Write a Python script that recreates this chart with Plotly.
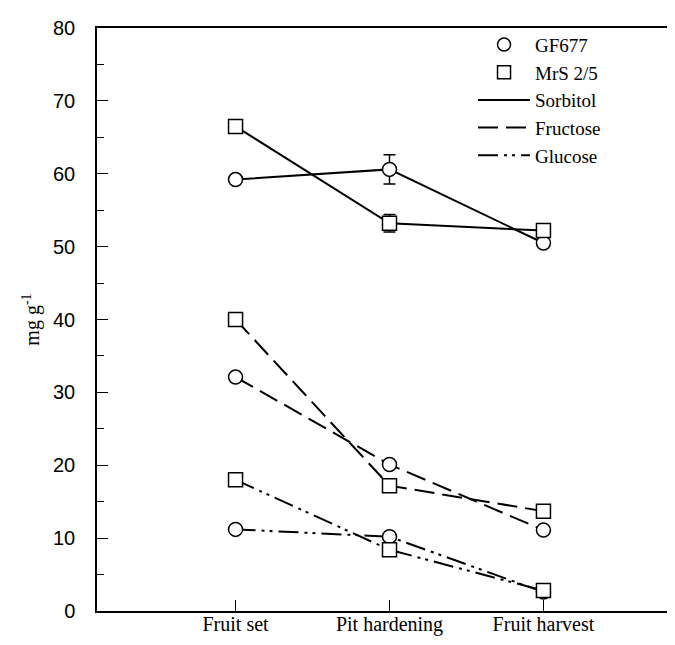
import plotly.graph_objects as go

stages = ["Fruit set", "Pit hardening", "Fruit harvest"]

gf_sorbitol = [59.2, 60.6, 50.5]
gf_fructose = [32.1, 20.1, 11.1]
gf_glucose = [11.2, 10.2, 2.6]
mrs_sorbitol = [66.5, 53.2, 52.2]
mrs_fructose = [40.0, 17.2, 13.7]
mrs_glucose = [18.0, 8.4, 2.8]

gf_sorbitol_err = [None, 2.0, None]
mrs_sorbitol_err = [None, 1.2, None]

y_ticks = [0, 10, 20, 30, 40, 50, 60, 70, 80]

SOLID = "solid"
FRUCT = "20px,8px"
GLUC = "20px,6px,3px,5px,3px,6px"

fig = go.Figure()

def add(y, symbol, dash, err=None):
    kw = {}
    if err is not None:
        kw["error_y"] = dict(type="data", array=err, visible=True, color="black",
                             thickness=1.5, width=6)
    fig.add_trace(go.Scatter(
        x=stages, y=y, mode="lines+markers",
        line=dict(color="black", width=2, dash=dash),
        marker=dict(symbol=symbol, size=14, color="white",
                    line=dict(color="black", width=1.5)),
        showlegend=False, **kw))

add(gf_sorbitol, "circle", SOLID, gf_sorbitol_err)
add(mrs_sorbitol, "square", SOLID, mrs_sorbitol_err)
add(gf_fructose, "circle", FRUCT)
add(mrs_fructose, "square", FRUCT)
add(gf_glucose, "circle", GLUC)
add(mrs_glucose, "square", GLUC)

legend_items = [
    ("GF677", "markers", "circle", SOLID),
    ("MrS 2/5", "markers", "square", SOLID),
    ("Sorbitol", "lines", None, SOLID),
    ("Fructose", "lines", None, FRUCT),
    ("Glucose", "lines", None, GLUC),
]
for name, mode, sym, dash in legend_items:
    if mode == "markers":
        fig.add_trace(go.Scatter(x=[None], y=[None], mode="markers", name=name,
                                 marker=dict(symbol=sym, size=13, color="white",
                                             line=dict(color="black", width=1.5))))
    else:
        fig.add_trace(go.Scatter(x=[None], y=[None], mode="lines", name=name,
                                 line=dict(color="black", width=2, dash=dash)))

fig.update_layout(
    width=675, height=645,
    margin=dict(l=89, r=1, t=20, b=42),
    paper_bgcolor="white", plot_bgcolor="white",
    legend=dict(x=0.645, y=1.004, xanchor="left", yanchor="top",
                bgcolor="rgba(0,0,0,0)", itemwidth=52,
                font=dict(family="Liberation Serif", size=19, color="black")),
    xaxis=dict(type="category", range=[-0.9, 2.887],
               showline=True, linecolor="black", linewidth=2, mirror=True,
               ticks="inside", ticklen=11, tickwidth=1, tickcolor="black",
               showgrid=False, zeroline=False,
               tickfont=dict(family="Liberation Serif", size=20, color="black"),
               ticklabelstandoff=-6),
    yaxis=dict(range=[0, 80], tickvals=y_ticks,
               showline=True, linecolor="black", linewidth=1.5, mirror="ticks",
               ticks="inside", ticklen=11, tickwidth=1, tickcolor="black",
               minor=dict(dtick=5, ticks="inside", ticklen=7, tickwidth=1, tickcolor="black"),
               showgrid=False, zeroline=False,
               tickfont=dict(family="Liberation Sans", size=20, color="black"),
               ticklabelstandoff=16,
               title=dict(text="mg g<sup>-1</sup>", standoff=8,
                          font=dict(family="Liberation Serif", size=20, color="black"))),
)

fig.write_html("out.html")
